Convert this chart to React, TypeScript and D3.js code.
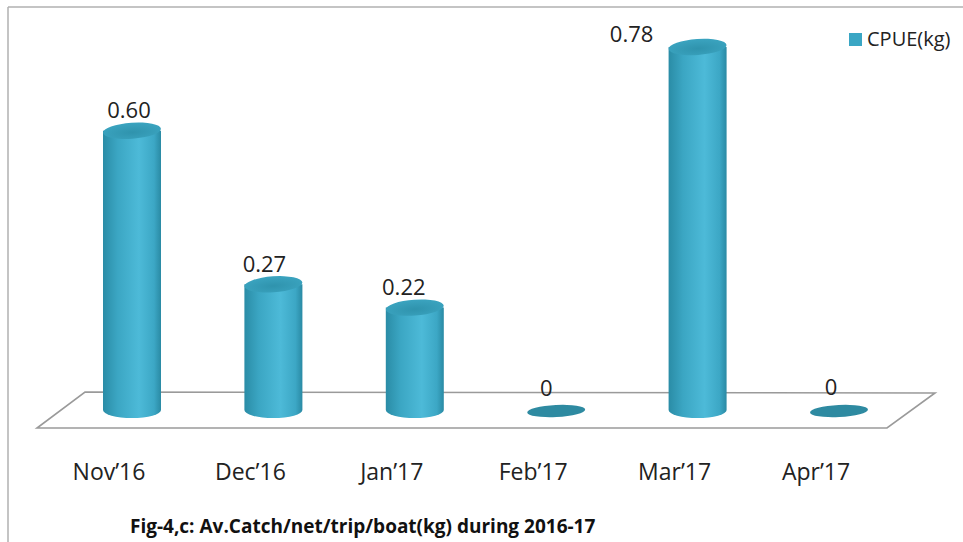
import React from "react";
import * as d3 from "d3";

const categories = ["Nov\u201916", "Dec\u201916", "Jan\u201917", "Feb\u201917", "Mar\u201917", "Apr\u201917"];
const values = [0.6, 0.27, 0.22, 0, 0.78, 0];
const valueLabels = ["0.60", "0.27", "0.22", "0", "0.78", "0"];
const seriesName = "CPUE(kg)";
const caption = "Fig-4,c: Av.Catch/net/trip/boat(kg) during 2016-17";

// label layout offsets (px) relative to bar centre / top
const labelDx = [-3, -9, -11, -10, -66, -8];
const labelDy = [-13, -12, -13, -14, -5, -15];

const W = 963;
const H = 542;
const FONT = "'Open Sans', Lato, sans-serif";

export default function App() {
  const x = d3.scalePoint<string>().domain(categories).range([132, 839]);
  const y = d3.scaleLinear().domain([0, 0.78]).range([410, 47]);
  const rx = 29;
  const ry = 8;
  const base = y(0);

  const floor = d3.line()([
    [85, 392],
    [935, 393],
    [887, 428],
    [37, 428],
  ]) + "Z";

  return (
    <svg width={W} height={H} style={{ position: "absolute", left: 0, top: 0, background: "#fff" }}>
      <defs>
        <linearGradient id="body" x1="0" x2="1" y1="0" y2="0">
          <stop offset="0" stopColor="#2a8ca6" />
          <stop offset="0.25" stopColor="#3ba6c3" />
          <stop offset="0.62" stopColor="#4dbad8" />
          <stop offset="0.88" stopColor="#3ca7c5" />
          <stop offset="1" stopColor="#2a8aa4" />
        </linearGradient>
        <radialGradient id="top" cx="0.5" cy="0.6" r="0.6">
          <stop offset="0" stopColor="#2f93ad" />
          <stop offset="1" stopColor="#3ba4c0" />
        </radialGradient>
      </defs>
      <rect x={0} y={0} width={W} height={H} fill="#fff" />
      <line x1={8} y1={7} x2={W} y2={7} stroke="#b0b0b0" strokeWidth={1.5} />
      <line x1={8} y1={7} x2={8} y2={H} stroke="#b0b0b0" strokeWidth={1.5} />

      <path d={floor} fill="#fff" stroke="#9a9a9a" strokeWidth={1.6} />

      {categories.map((c, i) => {
        const cx = x(c)!;
        const v = values[i];
        const top = y(v);
        if (v === 0) {
          return (
            <g key={c}>
              <ellipse cx={cx} cy={base + 1} rx={rx} ry={6} fill="#2e8aa1" transform={`rotate(-3 ${cx} ${base + 1})`} />
              <text x={cx + labelDx[i]} y={top + labelDy[i]} textAnchor="middle" fontFamily={FONT} fontSize={22} fill="#222">
                {valueLabels[i]}
              </text>
            </g>
          );
        }
        const body = `M${cx - rx},${top} L${cx - rx},${base} A${rx},${ry} 0 0 0 ${cx + rx},${base} L${cx + rx},${top} Z`;
        return (
          <g key={c}>
            <path d={body} fill="url(#body)" />
            <ellipse cx={cx} cy={top} rx={rx} ry={ry} fill="url(#top)" transform={`rotate(-4 ${cx} ${top})`} />
            <text x={cx + labelDx[i]} y={top + labelDy[i]} textAnchor="middle" fontFamily={FONT} fontSize={22} fill="#222">
              {valueLabels[i]}
            </text>
          </g>
        );
      })}

      {categories.map((c) => (
        <text key={c} x={x(c)! - 23} y={480} textAnchor="middle" fontFamily={FONT} fontSize={23} fill="#222">
          {c}
        </text>
      ))}

      <rect x={849} y={33} width={13} height={13} fill="#3aa6c4" />
      <text x={867} y={46} fontFamily={FONT} fontSize={20} fill="#222">
        {seriesName}
      </text>

      <text x={130} y={533} fontFamily={FONT} fontSize={19} fontWeight="bold" fill="#111">
        {caption}
      </text>
    </svg>
  );
}
